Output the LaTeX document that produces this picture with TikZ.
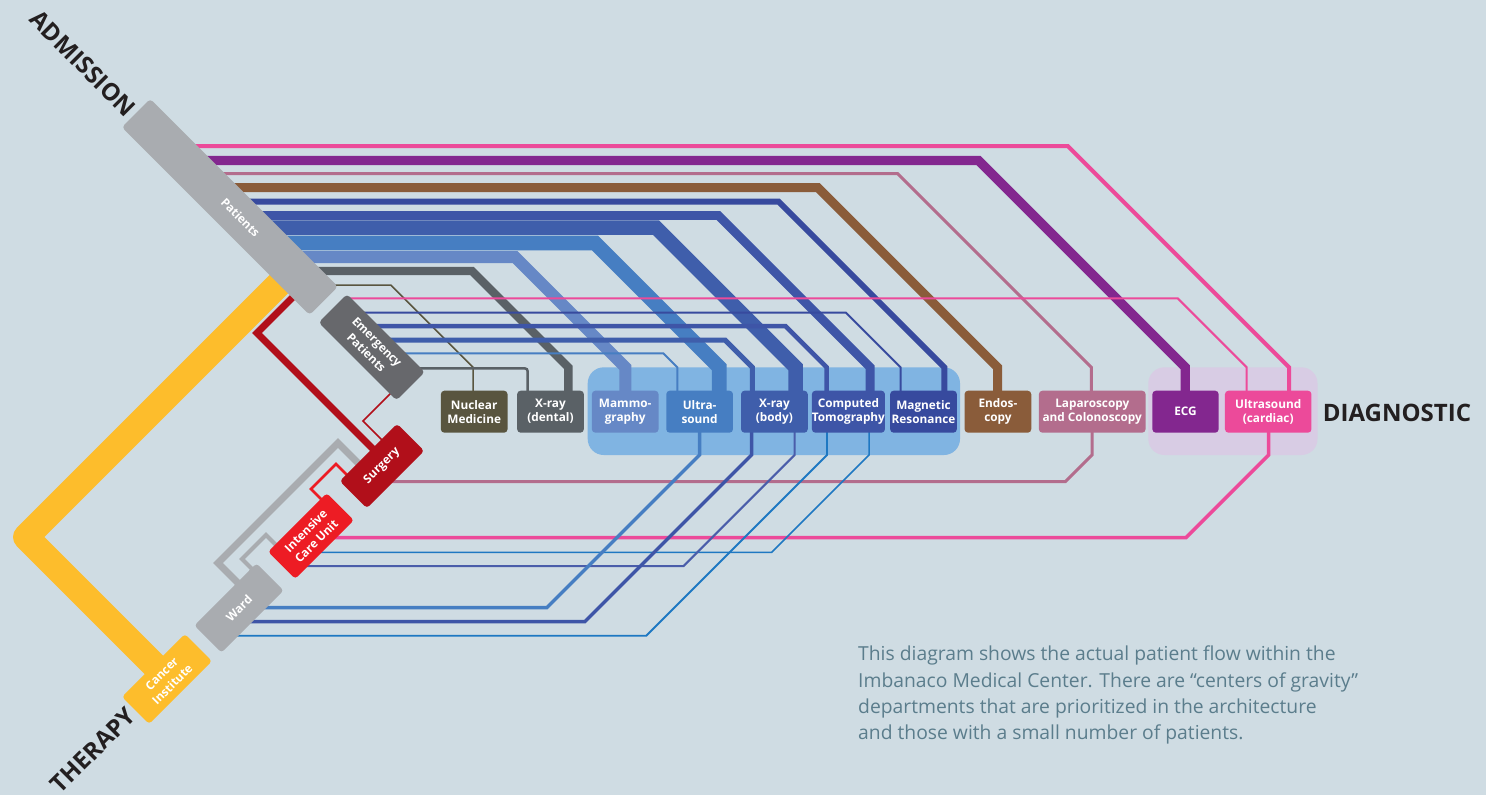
\documentclass[tikz,border=0pt]{standalone}
\usepackage{fontspec}
\setmainfont{Open Sans}
\usetikzlibrary{calc}
\pgfdeclarelayer{bg}
\pgfdeclarelayer{lines}
\pgfsetlayers{bg,lines,main}
\definecolor{bgc}{HTML}{CFDCE3}
\definecolor{patc}{HTML}{A9ACB0}
\definecolor{emc}{HTML}{67686C}
\definecolor{surgc}{HTML}{B10F1A}
\definecolor{icuc}{HTML}{ED1C24}
\definecolor{wardc}{HTML}{A9ACB0}
\definecolor{cancc}{HTML}{FDBD2C}
\definecolor{nmc}{HTML}{59553F}
\definecolor{xrdc}{HTML}{5A6166}
\definecolor{mamc}{HTML}{6688C6}
\definecolor{usc}{HTML}{467EC2}
\definecolor{xrbc}{HTML}{3F5EAB}
\definecolor{ctc}{HTML}{3E55A7}
\definecolor{mrc}{HTML}{374A9E}
\definecolor{endc}{HTML}{8A5C3A}
\definecolor{lapc}{HTML}{B36D8D}
\definecolor{ecgc}{HTML}{83278F}
\definecolor{uscc}{HTML}{EC4A9A}
\definecolor{contblue}{HTML}{80B4E2}
\definecolor{contlav}{HTML}{D8CCE4}
\definecolor{titlec}{HTML}{231F20}
\definecolor{parc}{HTML}{5B7D8C}
\definecolor{ltblue}{HTML}{1E78C2}
\definecolor{midblue}{HTML}{4A5DAA}
\begin{document}
\begin{tikzpicture}[x=1pt,y=-1pt,
  box/.style={rounded corners=3.5pt, inner sep=0pt, align=center, text=white, font=\fontsize{11.8}{14}\selectfont\bfseries},
  dbox/.style={box, minimum width=66.7pt, minimum height=42pt},
  abox/.style={box, rotate=-45, minimum height=40pt, font=\fontsize{11.8}{15}\selectfont\bfseries},
  tbox/.style={box, rotate=45, minimum height=38.5pt, font=\fontsize{11.8}{15}\selectfont\bfseries},
  cont/.style={rounded corners=16pt, inner sep=0pt, minimum height=87.7pt},
  fl/.style 2 args={draw=#1, line width=#2pt},
  title/.style={font=\fontsize{24}{24}\selectfont\bfseries, text=titlec, inner sep=0pt}
]
\useasboundingbox (0,0) rectangle (1486,795);
\begin{pgfonlayer}{bg}
\fill[bgc] (0,0) rectangle (1486,795);
\node[cont, fill=contblue, minimum width=372.3pt] (cblue) at (773.85,411.15) {};
\node[cont, fill=contlav, minimum width=169.2pt] (clav) at (1232.9,411.15) {};
\end{pgfonlayer}

% admission
\node[abox, fill=patc, minimum width=265.5pt] (pat) at (229.9,206.9) {\hspace*{30pt}Patients};
\node[abox, fill=emc, minimum width=110pt] (em) at (371.75,347.25) {Emergency\\Patients};
% therapy
\node[tbox, fill=surgc, minimum width=81pt] (surg) at (382,466) {Surgery};
\node[tbox, fill=icuc, minimum width=83pt] (icu) at (311,536) {Intensive\\Care Unit};
\node[tbox, fill=wardc, minimum width=88pt] (ward) at (239,608) {Ward};
\node[tbox, fill=cancc, minimum width=89pt] (canc) at (167,679) {Cancer\\Institute};
% diagnostic
\node[dbox, fill=nmc] (nm) at (474.2,411.7) {Nuclear\\Medicine};
\node[dbox, fill=xrdc] (xrd) at (550.5,411.7) {X-ray\\(dental)};
\node[dbox, fill=mamc] (mam) at (625.2,411.7) {Mammo-\\graphy};
\node[dbox, fill=usc] (us) at (699.6,411.7) {Ultra-\\sound};
\node[dbox, fill=xrbc] (xrb) at (774.4,411.7) {X-ray\\(body)};
\node[dbox, fill=ctc] (ct) at (848.4,411.7) {Computed\\Tomography};
\node[dbox, fill=mrc] (mr) at (923.5,411.7) {Magnetic\\Resonance};
\node[dbox, fill=endc] (endo) at (997.9,411.7) {Endos-\\copy};
\node[dbox, fill=lapc, minimum width=106.7pt] (lap) at (1092.25,411.7) {Laparoscopy\\and Colonoscopy};
\node[dbox, fill=ecgc, minimum width=66.3pt] (ecg) at (1185.5,411.7) {ECG};
\node[dbox, fill=uscc, minimum width=86.5pt] (uscard) at (1268.2,411.7) {Ultrasound\\(cardiac)};

% titles
\node[title, rotate=-45] (adm) at (83,63.5) {ADMISSION};
\node[title, rotate=45] (ther) at (93,750) {THERAPY};
\node[title] (diag) at (1397,413) {DIAGNOSTIC};
\node[anchor=north west, align=left, inner sep=0pt, text=parc, font=\fontsize{19.3}{26.2}\selectfont] (par) at (858,646) {This diagram shows the actual patient flow within the\\Imbanaco Medical Center. There are “centers of gravity”\\departments that are prioritized in the architecture\\and those with a small number of patients.};

\begin{pgfonlayer}{lines}
% from patients
\draw[fl={uscc}{4}] (pat.center) -- (186,146) -- (1067.7,146) -- (1289,367.3) -- (uscard.center -| 1289,0);
\draw[fl={ecgc}{9.3}] (pat.center) -- (200.5,160.5) -- (978.5,160.5) -- (1185.3,367.3) -- (ecg.center -| 1185.3,0);
\draw[fl={lapc}{3}] (pat.center) -- (213.7,173.7) -- (897.7,173.7) -- (1091.3,367.3) -- (lap.center -| 1091.3,0);
\draw[fl={endc}{9}] (pat.center) -- (227.7,187.7) -- (818,187.7) -- (997.6,367.3) -- (endo.center -| 997.6,0);
\draw[fl={mrc}{6}] (pat.center) -- (241.7,201.7) -- (778.7,201.7) -- (944.3,367.3) -- (mr.center -| 944.3,0);
\draw[fl={ctc}{8.8}] (pat.center) -- (255.5,215.5) -- (718.3,215.5) -- (870.1,367.3) -- (ct.center -| 870.1,0);
\draw[fl={xrbc}{14.5}] (pat.center) -- (267.7,227.7) -- (656,227.7) -- (795.6,367.3) -- (xrb.center -| 795.6,0);
\draw[fl={usc}{14.8}] (pat.center) -- (283,243) -- (595,243) -- (719.3,367.3) -- (us.center -| 719.3,0);
\draw[fl={mamc}{12}] (pat.center) -- (297,257) -- (515,257) -- (625.3,367.3) -- (mam.center -| 625.3,0);
\draw[fl={xrdc}{8.4}] (pat.center) -- (311,271) -- (472,271) -- (568.3,367.3) -- (xrd.center -| 568.3,0);
\draw[fl={nmc}{1.5}] (pat.center) -- (325,285) -- (390.7,285) -- (473,367.3) -- (nm.center -| 473,0);
% to therapy
\draw[fl={cancc}{26}, line join=round] (pat.center) -- (290,273) -- (26,537) -- (158,669) -- (canc.center);
\draw[fl={surgc}{7}] (pat.center) -- (300,290) -- (257,333) -- (383,459) -- (surg.center);
% from emergency
\draw[fl={uscc}{2}] (em.center) -- (347,298.3) -- (1177.7,298.3) -- (1246.7,367.3) -- (uscard.center -| 1246.7,0);
\draw[fl={mrc}{2}] (em.center) -- (359.7,312.7) -- (845.9,312.7) -- (900.5,367.3) -- (mr.center -| 900.5,0);
\draw[fl={ctc}{4.5}] (em.center) -- (373,326) -- (785.4,326) -- (826.7,367.3) -- (ct.center -| 826.7,0);
\draw[fl={xrbc}{5}] (em.center) -- (387,340) -- (725,340) -- (752.3,367.3) -- (xrb.center -| 752.3,0);
\draw[fl={usc}{2}] (em.center) -- (400.3,353.3) -- (663.3,353.3) -- (677.3,367.3) -- (us.center -| 677.3,0);
\draw[fl={xrdc}{2.5}, rounded corners=3pt] (em.center) -- (415.3,368.3) -- (527.7,368.3) -- (xrd.center -| 527.7,0);
\draw[fl={surgc}{1.5}] (em.center) -- (395,389) -- (388,396) -- (363,421) -- (383,441) -- (surg.center);
% therapy internal
\draw[fl={icuc}{2.5}] (surg.center) -- (352,480) -- (336,464) -- (311,489) -- (322,500) -- (icu.center);
\draw[fl={wardc}{7}] (surg.center) -- (360,465) -- (338,443) -- (218,563) -- (238,583) -- (ward.center);
\draw[fl={wardc}{4}] (icu.center) -- (280,549) -- (266,535) -- (242,559) -- (252,569) -- (ward.center);
% therapy to diagnostic
\draw[fl={lapc}{3}] (surg.center) -- (383,481.7) -- (1065.3,481.7) -- (1092,455) -- (lap.center -| 1092,0);
\draw[fl={uscc}{3.5}] (icu.center) -- (327,537.7) -- (1186,537.7) -- (1268.7,455) -- (uscard.center -| 1268.7,0);
\draw[fl={ltblue}{1.5}] (icu.center) -- (312,552.3) -- (771.7,552.3) -- (869,455) -- (ct.center -| 869,0);
\draw[fl={midblue}{2}] (icu.center) -- (298,566) -- (683.6,566) -- (794.6,455) -- (xrb.center -| 794.6,0);
\draw[fl={usc}{3.5}] (ward.center) -- (254,607.7) -- (546.8,607.7) -- (699.5,455) -- (us.center -| 699.5,0);
\draw[fl={ctc}{3.5}] (ward.center) -- (240,621.7) -- (584.8,621.7) -- (751.5,455) -- (xrb.center -| 751.5,0);
\draw[fl={ltblue}{1.8}] (ward.center) -- (226,635.7) -- (646.3,635.7) -- (827,455) -- (ct.center -| 827,0);
\end{pgfonlayer}
\end{tikzpicture}
\end{document}
